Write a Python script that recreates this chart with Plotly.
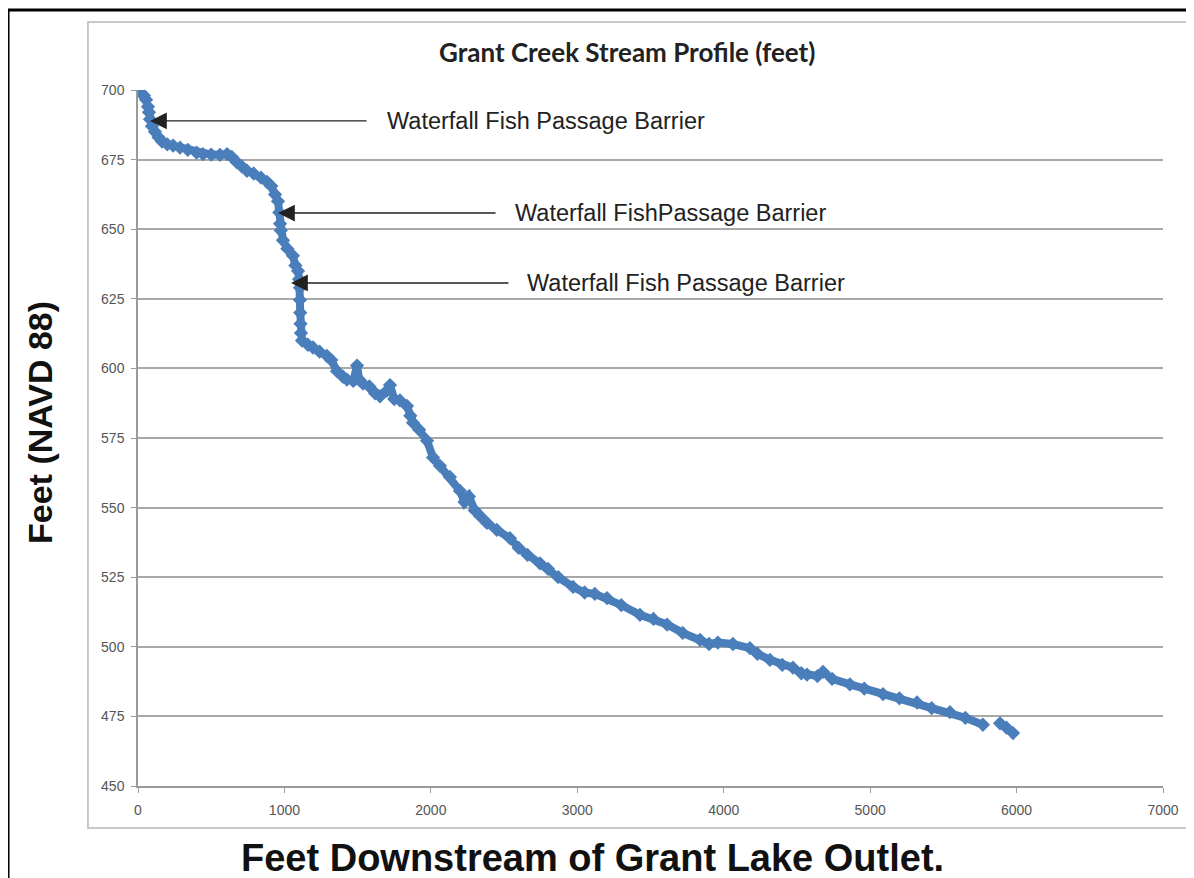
import plotly.graph_objects as go

# distance downstream (ft) and elevation (ft, NAVD 88)
dist_ft = [
    0, 20, 40, 55, 68, 75, 82, 95, 116, 140, 164, 200, 240, 287, 340, 400, 444, 500,
    560, 608, 640, 676, 710, 744, 790, 840, 881, 910, 936, 956, 965, 970, 975, 990,
    1020, 1058, 1075, 1093, 1100, 1106, 1106, 1108, 1110, 1113, 1120, 1160, 1195,
    1240, 1290, 1320, 1359, 1400, 1427, 1470, 1496, 1510, 1537, 1580, 1620, 1653,
    1700, 1721, 1750, 1789, 1837, 1860, 1878, 1920, 1974, 2015, 2062, 2130, 2199,
    2230, 2260, 2300, 2336, 2383, 2450, 2540, 2600, 2660, 2745, 2800, 2870, 2971,
    3050, 3120, 3203, 3300, 3428, 3520, 3613, 3720, 3838, 3900, 3960, 4063, 4179,
    4230, 4316, 4400, 4473, 4530, 4569, 4640, 4678, 4740, 4862, 4960, 5088, 5200,
    5320, 5420, 5545, 5650, 5770, 5830, 5887, 5930, 5976,
]
elev_ft = [
    700, 699, 698, 696.5, 694, 692, 689.5, 687, 685, 683, 681.5, 680.5, 680, 679.3,
    678.5, 677.5, 677, 676.8, 676.7, 677, 676, 674, 672.5, 671, 670, 668.5, 667,
    665.5, 662.5, 660, 656, 652, 649.5, 646, 643, 640.5, 637, 635, 632, 629, 624.6,
    620, 616, 612.7, 610, 608.5, 607.5, 606, 604.5, 603, 599, 597, 596, 595.5, 601,
    596, 594.5, 593.5, 591, 590, 592, 594, 589, 588.5, 586.5, 583, 580.5, 578, 574,
    568, 565, 561, 556, 552, 554, 549, 547, 544.5, 542, 539, 535.5, 533, 530, 528,
    525, 521.5, 519.5, 519, 517.5, 515, 511.5, 510, 508, 505, 502.5, 501, 501.5, 501,
    499.5, 497.5, 495.3, 493.5, 492.5, 490.5, 490, 489.5, 491, 488.5, 486.5, 485,
    483, 481.5, 480, 478, 476.5, 474.5, 472, None, 472.5, 471, 469,
]

# barrier labels: arrow tip (ft, ft), arrow tail x, label text
barrier_tip_x = [82, 956, 1045]
barrier_tip_y = [688.9, 655.8, 630.7]
barrier_tail_x = [1571, 2452, 2540]
barrier_text = ["Waterfall Fish Passage Barrier", "Waterfall FishPassage Barrier",
                "Waterfall Fish Passage Barrier"]
barrier_text_x = [1687, 2561, 2643]

fig = go.Figure()
fig.add_trace(go.Scatter(
    x=dist_ft, y=elev_ft,
    mode='lines+markers',
    connectgaps=False,
    line=dict(color='#4a7ebb', width=8),
    marker=dict(symbol='diamond', size=11, color='#4a7ebb'),
    showlegend=False,
))

annotations = []
for tx, ty, tail, txt, lx in zip(barrier_tip_x, barrier_tip_y, barrier_tail_x,
                                  barrier_text, barrier_text_x):
    annotations.append(dict(
        x=tx, y=ty, ax=tail, ay=ty, xref='x', yref='y', axref='x', ayref='y',
        text='', showarrow=True, arrowhead=2, arrowsize=2.4, arrowwidth=1.4,
        arrowcolor='#222222', standoff=0,
    ))
    annotations.append(dict(
        x=lx, y=ty, xref='x', yref='y', xanchor='left', yanchor='middle',
        text=txt, showarrow=False,
        font=dict(family='Liberation Sans, Arial', size=23.5, color='#222222'),
    ))

annotations.append(dict(
    x=0.477, y=1.055, xref='paper', yref='paper', showarrow=False,
    xanchor='center', yanchor='middle',
    text='<b>Grant Creek Stream Profile (feet)</b>',
    font=dict(family='Lato, Open Sans', size=26, color='#222222'),
))
annotations.append(dict(
    x=0.443, y=-0.103, xref='paper', yref='paper', showarrow=False,
    xanchor='center', yanchor='middle',
    text='<b>Feet Downstream of Grant Lake Outlet.</b>',
    font=dict(family='Liberation Sans, Arial', size=38, color='#111111'),
))
annotations.append(dict(
    x=-0.0956, y=0.5216, xref='paper', yref='paper', showarrow=False,
    xanchor='center', yanchor='middle',
    text='<b>Feet (NAVD 88)</b>', textangle=-90,
    font=dict(family='Liberation Sans, Arial', size=34, color='#111111'),
))
fig.update_layout(annotations=annotations)

fig.update_layout(
    width=1194, height=878,
    margin=dict(l=130, r=39, t=82, b=100),
    paper_bgcolor='white',
    plot_bgcolor='white',
    xaxis=dict(
        range=[0, 7000], dtick=1000, tick0=0, showgrid=False, zeroline=False,
        showline=True, linecolor='#9a9a9a', linewidth=1.5,
        ticks='outside', ticklen=5, tickcolor='#9a9a9a', ticklabelstandoff=5,
        tickfont=dict(family='Liberation Sans, Arial', size=14, color='#555555'),
    ),
    yaxis=dict(
        range=[450, 700], dtick=25, tick0=450, showgrid=True, gridcolor='#a8a8a8',
        gridwidth=1.5, zeroline=False, showline=True, linecolor='#9a9a9a',
        linewidth=1.5, ticks='outside', ticklen=5, tickcolor='#9a9a9a',
        ticklabelstandoff=4,
        tickfont=dict(family='Liberation Sans, Arial', size=14, color='#555555'),
    ),
    shapes=[
        dict(type='rect', xref='paper', yref='paper', x0=-0.0488, x1=1.0293,
             y0=-0.0603, y1=1.0977, line=dict(color='#b8b8b8', width=1.5)),
        dict(type='rect', xref='paper', yref='paper', x0=-0.1268, x1=1.2,
             y0=-0.3, y1=1.1149, line=dict(color='black', width=3)),
    ],
)

fig.write_html("out.html")
